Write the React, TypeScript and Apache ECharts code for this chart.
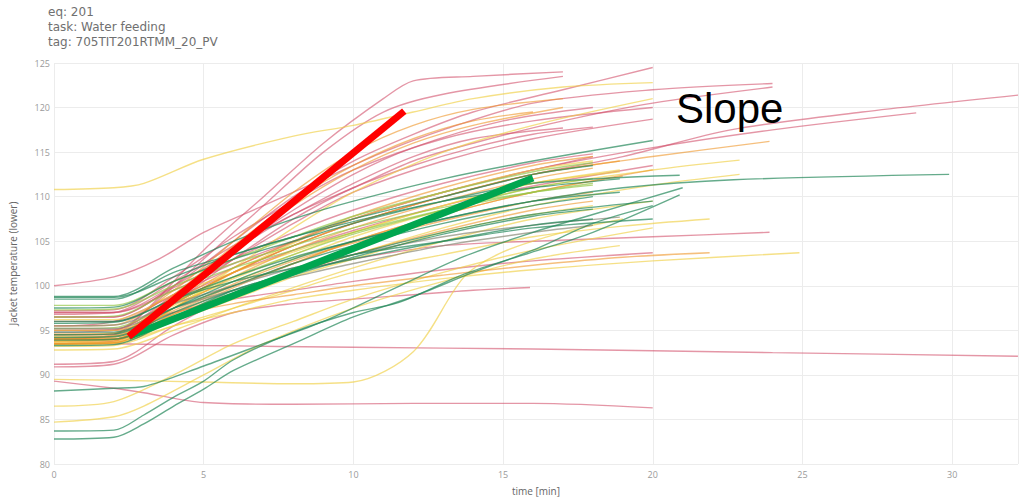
import React, { useEffect, useRef } from "react";
import * as echarts from "echarts";

type Pt = [number, number];

const titleLines = ["eq: 201", "task: Water feeding", "tag: 705TIT201RTMM_20_PV"];
const xAxisName = "time [min]";
const yAxisName = "Jacket temperature (lower)";
const annotationText = "Slope";

// batch curves: [time (min), temperature]
const redCurves: Pt[][] = [
  [[0, 94], [2, 94.5], [3, 97], [5, 104], [7, 110], [9, 116], [11, 121], [12, 123], [14, 123.5], [17, 124]],
  [[0, 95], [2, 95], [3, 97], [5, 103], [7, 109], [9, 115], [11, 119.5], [13, 121.5], [17, 123.5]],
  [[0, 96.5], [2, 96.5], [4, 100], [6, 105], [8, 110], [10, 114], [12, 117], [14, 119.5], [17, 122], [20, 124.5]],
  [[0, 100], [2, 101], [3.5, 103], [5, 106], [7, 109], [9, 112], [11, 115], [13, 117.5], [16, 120.5], [20, 122], [24, 122.7]],
  [[0, 97], [2, 97], [4, 100], [6, 104], [8, 108], [10, 111], [12, 114], [14, 116], [17, 118.5], [20, 120.5], [24, 122.3]],
  [[0, 95.5], [2, 96], [4, 99], [6, 103], [8, 107], [10, 110.5], [13, 114], [16, 116.5], [20, 118.7]],
  [[0, 94.5], [2, 94.5], [4, 98], [6, 101.5], [8, 104.5], [10, 107], [13, 110], [16, 112.5], [19, 114.5], [22.6, 117.5], [27, 119.5], [32.2, 121.4]],
  [[0, 96], [2, 96], [4, 99], [7, 103.5], [10, 107.5], [13, 110.5], [16, 113], [20, 115.5], [24, 117.5], [28.8, 119.4]],
  [[0, 93.5], [2, 93.8], [4, 98], [6, 103], [8, 107.5], [10, 111], [12, 113.5], [14, 115.5], [16, 117], [18, 117.8]],
  [[0, 96.8], [2, 97], [4, 100.5], [6, 104.5], [8, 108], [10, 111.5], [12, 114.5], [14, 116.5], [17, 117.7]],
  [[0, 94.8], [2, 95], [4, 99], [6, 104], [8, 108.5], [10, 112.5], [12, 115.5], [15, 118.5], [18, 120]],
  [[0, 97.2], [2, 97.3], [4, 101], [6, 105.5], [8, 109.5], [10, 113], [13, 116.5], [16, 118.5], [20, 120]],
  [[0, 93.5], [2, 93.5], [5, 93.3], [10, 93.1], [16, 92.9], [24, 92.5], [32.2, 92.1]],
  [[0, 89.3], [2, 88.5], [3, 88], [5, 86.9], [8, 86.7], [12, 86.8], [16, 86.8], [20, 86.3]],
  [[0, 91.2], [2, 91.5], [4, 95.5], [6, 99], [8, 101.5], [10, 103], [13, 104.5], [16, 105], [20, 105.5], [23.9, 106]],
  [[0, 90.9], [2, 91.2], [4, 94.5], [6, 97], [8, 98], [10, 98.5], [12, 99], [14, 99.5], [15.9, 99.8]],
  [[0, 95], [2, 95], [4, 97], [6, 98.5], [8, 99.5], [10, 100.5], [13, 101.8], [16, 102.8], [20, 103.7]],
  [[0, 97], [2, 97], [4, 99.5], [6, 102.5], [8, 105], [10, 107.5], [13, 110.5], [16, 113], [18, 114.5]],
  [[0, 95], [2, 95.1], [4, 98.5], [6, 101.5], [8, 104], [10, 106.2], [13, 109], [16, 111.2], [20, 113.5]],
  [[0, 96.5], [2, 96.5], [4, 99.8], [6, 103], [8, 106], [10, 108.5], [13, 111.5], [16, 113.8], [18, 114.8]],
];

const orangeCurves: Pt[][] = [
  [[0, 94], [2, 94], [4, 98.5], [6, 104], [8, 109], [10, 113], [12, 116], [14, 118], [17, 120]],
  [[0, 94.5], [2, 94.6], [4, 99], [6, 104.5], [8, 109.5], [10, 113.5], [12, 116.5], [14, 118.5], [16, 119.5]],
  [[0, 95.5], [2, 95.6], [4, 99.5], [6, 105], [8, 110.5], [10, 115], [12, 118], [14, 119.8], [17, 121]],
  [[0, 94], [2, 94], [4, 96.5], [6, 98], [8, 99], [10, 100], [13, 101.2], [16, 102.3], [19, 103.2], [21.9, 103.7]],
  [[0, 94], [2, 94], [4, 98], [6, 101.5], [8, 104.5], [10, 107], [13, 110], [16, 112.5], [18.9, 114]],
  [[0, 93.5], [2, 93.6], [4, 97], [6, 100], [8, 102.5], [10, 105], [13, 108], [16, 110.5], [20, 113]],
  [[0, 94.2], [2, 94.3], [4, 98], [6, 101.5], [8, 104.5], [10, 107], [13, 110], [16, 112.5], [20, 114.5], [23.9, 116.2]],
  [[0, 93.7], [2, 93.8], [4, 97.5], [6, 101], [8, 104], [10, 106.5], [13, 109.5], [16, 112], [18, 113.2]],
  [[0, 93.5], [2, 93.6], [4, 96.8], [6, 99.8], [8, 102.5], [10, 105], [13, 108], [16, 110.5], [19, 112.3]],
  [[0, 94.1], [2, 94.2], [4, 97.2], [6, 100.2], [8, 102.8], [10, 104.8], [13, 107.3], [16, 109.5], [18, 110.5]],
  [[0, 94.6], [2, 94.7], [4, 98.2], [6, 102], [8, 105], [10, 107.8], [13, 111], [16, 113.5], [18, 114.5]],
  [[0, 93.9], [2, 94], [4, 96.8], [6, 99.2], [8, 101.5], [10, 103.5], [13, 106.2], [16, 108.5], [18, 109.5]],
];

const yellowCurves: Pt[][] = [
  [[0, 110.8], [2, 111], [3, 111.5], [5, 114.2], [8, 116.8], [10, 118], [12, 119.5], [14, 121], [17, 122.3], [20, 122.8]],
  [[0, 93.8], [2, 94], [4, 97.5], [6, 102], [8, 106.5], [10, 110.5], [13, 115], [16, 118], [20, 121]],
  [[0, 89.5], [2, 89.4], [5, 89.2], [8, 89], [10, 89.2], [12, 92.6], [13.7, 101], [15, 103.8], [17, 106], [19, 107.5]],
  [[0, 84.7], [2, 85.3], [3, 86.5], [5, 90], [7, 93.5], [10, 97.5], [13, 100.5], [16, 103], [18.9, 104.5]],
  [[0, 86.5], [2, 87], [4, 90], [6, 93.5], [8, 96], [10, 98.5], [13, 101.5], [16, 104], [20, 106.5]],
  [[0, 93.5], [2, 93.6], [4, 95.5], [6, 97], [8, 98.5], [10, 99.5], [13, 100.8], [16, 101.8], [20, 102.8], [24.9, 103.7]],
  [[0, 95], [2, 95], [4, 98], [6, 100.5], [8, 103], [10, 105.5], [13, 108.5], [16, 111], [20, 113], [22.9, 114.1]],
  [[0, 93.8], [2, 93.9], [4, 96.5], [6, 99], [8, 101.5], [10, 103.5], [13, 106.5], [16, 109], [20, 111.3], [22.9, 112.5]],
  [[0, 93.2], [2, 93.3], [4, 95.5], [6, 97.5], [8, 99.5], [10, 101.5], [13, 103.5], [16, 105.5], [19, 106.7], [21.9, 107.5]],
  [[0, 94.3], [2, 94.4], [4, 97.8], [6, 100.8], [8, 103.5], [10, 106], [13, 109], [16, 111.5], [18.9, 113]],
  [[0, 93.4], [2, 93.5], [4, 96], [6, 98.5], [8, 101], [10, 103], [13, 106], [16, 108], [18, 109]],
  [[0, 96.2], [2, 96.2], [4, 99], [6, 101.5], [8, 103.8], [10, 106], [13, 109], [16, 111.5], [18.9, 112.8]],
  [[0, 93.6], [2, 93.7], [4, 97.5], [6, 101.5], [8, 104.8], [10, 107.5], [13, 110.5], [16, 113], [18, 114]],
  [[0, 92.8], [2, 92.9], [4, 95], [6, 97.5], [8, 99.8], [10, 102], [13, 105], [16, 107.5], [20, 109.5]],
];

const greenCurves: Pt[][] = [
  [[0, 82.8], [2, 83], [3, 84.5], [4, 86.5], [5, 88.4], [6, 90.5], [8, 93.5], [10, 96.5], [12, 98.8], [14, 101.5], [16, 104], [18, 107], [20, 109]],
  [[0, 83.7], [2, 83.8], [3, 85.5], [4, 87.5], [5, 89.3], [6, 91.7], [8, 94.8], [10, 97], [11.5, 98.1], [13.7, 101.3], [15.9, 103.7], [18, 106], [20.9, 110.2]],
  [[0, 88.2], [2, 88.5], [3, 88.7], [5, 91], [7, 93.5], [9, 96], [11.5, 99.9], [13.7, 103.3], [16, 106], [18, 108], [21, 111]],
  [[0, 98.8], [2, 98.8], [4, 102], [6, 105], [8, 107.5], [10, 109.5], [13, 112], [16, 114], [20, 116.3]],
  [[0, 98.5], [2, 98.5], [4, 101.5], [6, 103.5], [8, 105.5], [10, 107.2], [13, 109.5], [16, 111], [18.9, 112]],
  [[0, 97.5], [2, 97.6], [4, 100.5], [6, 103], [8, 105], [10, 107], [13, 109.5], [16, 111.5], [20.9, 112.4]],
  [[0, 94.5], [2, 94.6], [4, 97.5], [6, 100.5], [8, 103], [10, 105], [13, 107.5], [16, 109.5], [19, 111], [22.7, 111.9], [29.9, 112.5]],
  [[0, 93.9], [2, 94], [4, 96.5], [6, 99.5], [8, 101.5], [10, 103.5], [13, 106], [16, 108], [20, 109.5]],
  [[0, 96], [2, 96], [4, 98.5], [6, 100.5], [8, 102], [10, 103.5], [13, 105], [16, 106.5], [20, 107.5]],
  [[0, 98.7], [2, 98.7], [4, 101], [6, 103.5], [8, 105.5], [10, 107.5], [13, 110], [16, 112.5], [18, 113.5]],
  [[0, 95.8], [2, 95.9], [4, 98.5], [6, 101], [8, 103.2], [10, 105], [13, 107.5], [16, 109.5], [18.9, 110.5]],
  [[0, 94.8], [2, 94.8], [4, 97.5], [6, 100], [8, 102.5], [10, 104.5], [13, 107], [16, 109], [18, 110]],
  [[0, 93.3], [2, 93.4], [4, 96.2], [6, 99], [8, 101.2], [10, 103.2], [13, 105.8], [16, 107.8], [18, 108.6]],
  [[0, 94.2], [2, 94.3], [4, 97], [6, 99.5], [8, 101.5], [10, 103], [13, 105], [16, 106.8], [18, 107.5]],
];

const lightGreenCurves: Pt[][] = [
  [[0, 97.3], [2, 97.4], [4, 100], [6, 102.5], [8, 104.5], [10, 106.5], [13, 108.8], [16, 110.5], [18, 111.3]],
  [[0, 96.5], [2, 96.6], [4, 99.5], [6, 102], [8, 104], [10, 106], [13, 108.5], [16, 110.5], [18, 111.5]],
  [[0, 95.2], [2, 95.3], [4, 98.2], [6, 101], [8, 103.5], [10, 105.8], [13, 108.5], [16, 111], [18, 112]],
  [[0, 97.8], [2, 97.8], [4, 100.5], [6, 103], [8, 105.5], [10, 107.8], [13, 110.5], [16, 112.8], [18, 113.8]],
];

const greyCurves: Pt[][] = [
  [[0, 95.5], [2, 95.6], [4, 98], [6, 100], [8, 102], [10, 103.5], [13, 105.5], [16, 106.8], [18.9, 107.7]],
  [[0, 95.2], [2, 95.2], [4, 97.5], [6, 99.5], [8, 101], [10, 102.5], [13, 104.5], [16, 106], [18, 106.8]],
];

// hand-drawn slope annotations
const steepSlope: Pt[] = [[2.5, 94.3], [11.7, 119.6]];
const shallowSlope: Pt[] = [[2.5, 94.3], [16, 112.1]];

const groups: { curves: Pt[][]; color: string; opacity: number }[] = [
  { curves: redCurves, color: "#d2506a", opacity: 0.6 },
  { curves: yellowCurves, color: "#f0cf45", opacity: 0.65 },
  { curves: orangeCurves, color: "#ee9526", opacity: 0.6 },
  { curves: lightGreenCurves, color: "#97c84a", opacity: 0.7 },
  { curves: greyCurves, color: "#8a8a78", opacity: 0.7 },
  { curves: greenCurves, color: "#23875a", opacity: 0.7 },
];

export default function App() {
  const ref = useRef<HTMLDivElement>(null);
  useEffect(() => {
    if (!ref.current) return;
    const chart = echarts.init(ref.current, undefined, { renderer: "svg" });
    const series: any[] = [];
    groups.forEach((g) => {
      g.curves.forEach((c) => {
        series.push({
          type: "line",
          data: c,
          showSymbol: false,
          smooth: 0.3,
          silent: true,
          lineStyle: { width: 1.4, color: g.color, opacity: g.opacity },
        });
      });
    });
    series.push({
      type: "line",
      data: shallowSlope,
      showSymbol: false,
      silent: true,
      lineStyle: { width: 7, color: "#00a650", cap: "butt" },
    });
    series.push({
      type: "line",
      data: steepSlope,
      showSymbol: false,
      silent: true,
      lineStyle: { width: 7, color: "#ff0000", cap: "butt" },
    });
    chart.setOption({
      animation: false,
      backgroundColor: "#ffffff",
      grid: { left: 51, right: 2, top: 63, bottom: 36, containLabel: false },
      xAxis: {
        type: "value",
        min: 0,
        max: 32.2,
        interval: 5,
        name: xAxisName,
        nameLocation: "middle",
        nameGap: 22,
        nameTextStyle: { color: "#666", fontSize: 10, fontFamily: "Open Sans" },
        axisLine: { show: false },
        axisTick: { show: false },
        axisLabel: {
          color: "#9a9a9a",
          fontSize: 9,
          margin: 6,
          fontFamily: "Open Sans",
          showMaxLabel: false,
        },
        splitLine: { show: true, lineStyle: { color: "#ececec", width: 1 } },
      },
      yAxis: {
        type: "value",
        min: 80,
        max: 125,
        interval: 5,
        name: yAxisName,
        nameLocation: "middle",
        nameGap: 36,
        nameTextStyle: { color: "#666", fontSize: 10, fontFamily: "Open Sans" },
        axisLine: { show: false },
        axisTick: { show: false },
        axisLabel: { color: "#9a9a9a", fontSize: 9, margin: 4, fontFamily: "Open Sans" },
        splitLine: { show: true, lineStyle: { color: "#ececec", width: 1 } },
      },
      graphic: [
        ...titleLines.map((t, i) => ({
          type: "text",
          left: 48,
          top: 6 + i * 15,
          style: { text: t, fill: "#707070", fontSize: 12, fontFamily: "DejaVu Sans" },
        })),
        {
          type: "text",
          left: 676,
          top: 87,
          style: { text: annotationText, fill: "#000", fontSize: 42, fontFamily: "Liberation Sans" },
          z: 100,
        },
      ],
      series,
    });
    return () => chart.dispose();
  }, []);
  return <div ref={ref} style={{ width: 1020, height: 501, position: "absolute", left: 0, top: 0 }} />;
}
